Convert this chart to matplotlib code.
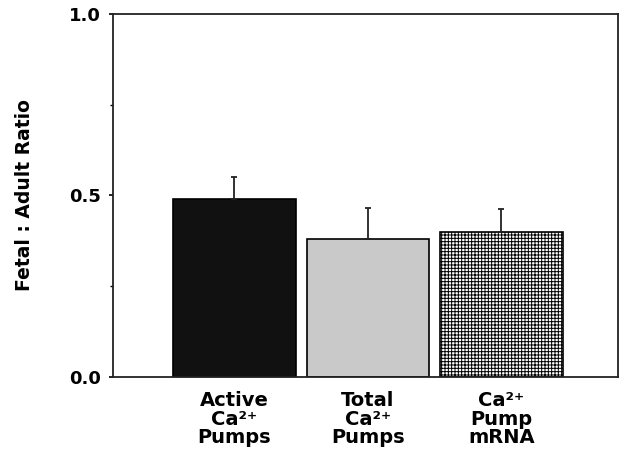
import matplotlib
matplotlib.use('Agg')
import matplotlib.pyplot as plt

# 数据
categories = ['Active\nCa²⁺\nPumps', 'Total\nCa²⁺\nPumps', 'Ca²⁺\nPump\nmRNA']
ratios = [0.49, 0.38, 0.40]
errors = [0.06, 0.085, 0.063]

plt.rcParams['font.family'] = ['DejaVu Sans']
plt.rcParams['hatch.linewidth'] = 0.7

fig = plt.figure(figsize=(6.19, 4.59), dpi=100)
ax = fig.add_axes([0.1826, 0.1786, 0.815, 0.791])

x = [0, 1, 2]
colors = ['#111111', '#c9c9c9', 'white']
hatches = [None, None, '+++++']
bars = ax.bar(x, ratios, width=0.92, color=colors, edgecolor='black', linewidth=1.2)
for b, h in zip(bars, hatches):
    if h:
        b.set_hatch(h)

# 只画向上的误差线
ax.errorbar(x, ratios, yerr=[[0, 0, 0], errors], fmt='none', ecolor='#222222',
            elinewidth=1.3, capsize=2, capthick=1.3)

ax.set_xlim(-0.91, 2.87)
ax.set_ylim(0, 1.0)
ax.set_yticks([0, 0.5, 1.0])
ax.set_yticklabels(['0.0', '0.5', '1.0'], fontsize=13, fontweight='bold')
ax.set_yticks([0.25, 0.75], minor=True)
ax.tick_params(axis='y', which='major', length=3, width=1.2, direction='out', pad=6)
ax.tick_params(axis='y', which='minor', length=2, width=1.0, direction='out')
ax.set_xticks(x)
ax.set_xticklabels(categories, fontsize=14, fontweight='bold', linespacing=0.98)
ax.tick_params(axis='x', length=0, pad=10)
for s in ax.spines.values():
    s.set_linewidth(1.3)
    s.set_color('#222222')

ax.set_ylabel('Fetal : Adult Ratio', fontsize=13.5, fontweight='bold', labelpad=25)

plt.savefig('out.png', dpi=100)
